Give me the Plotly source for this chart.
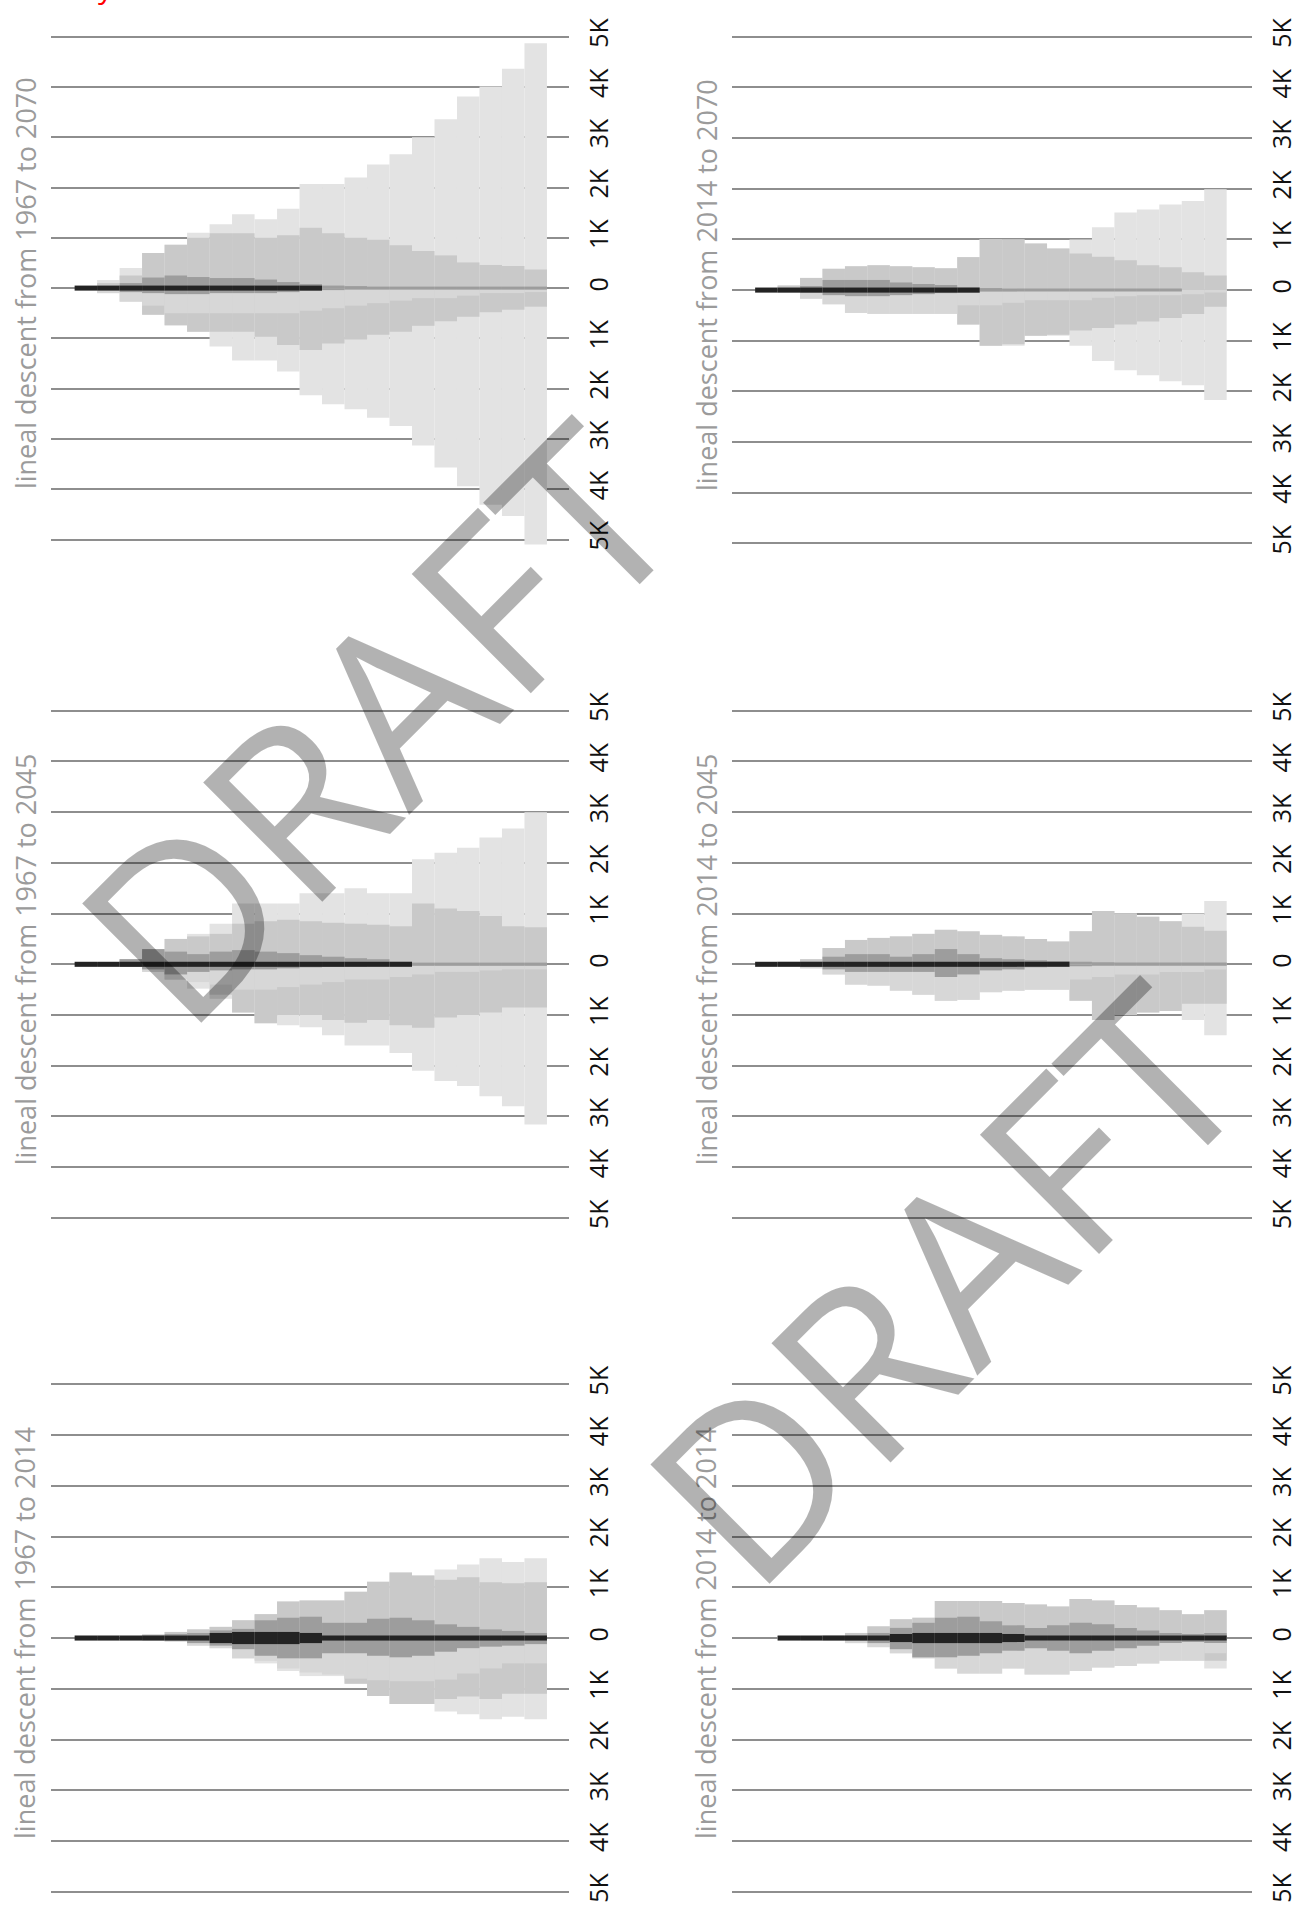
import plotly.graph_objects as go

# generation columns (21 per panel)
GENERATIONS = list(range(21))
TICK_VALS = [-5, -4, -3, -2, -1, 0, 1, 2, 3, 4, 5]
TICK_TEXT = ["5K", "4K", "3K", "2K", "1K", "0", "1K", "2K", "3K", "4K", "5K"]

TITLES = [
    "lineal descent from 1967 to 2070",
    "lineal descent from 2014 to 2070",
    "lineal descent from 1967 to 2045",
    "lineal descent from 2014 to 2045",
    "lineal descent from 1967 to 2014",
    "lineal descent from 2014 to 2014",
]

# --- 1967 to 2070 (values in thousands) ---
tl_up_outer = [0, 0.16, 0.40, 0.70, 0.86, 1.10, 1.27, 1.47, 1.37, 1.58, 2.07, 2.07, 2.20, 2.46, 2.66, 3.00, 3.36, 3.81, 4.01, 4.36, 4.87]
tl_up_light = [0, 0.10, 0.25, 0.70, 0.86, 1.00, 1.09, 1.09, 1.00, 1.05, 1.20, 1.09, 1.00, 0.96, 0.85, 0.74, 0.65, 0.51, 0.46, 0.44, 0.37]
tl_up_mid = [0, 0.03, 0.10, 0.21, 0.25, 0.22, 0.20, 0.20, 0.17, 0.12, 0.08, 0.05, 0.04, 0.03, 0.03, 0.03, 0.03, 0.03, 0.03, 0.03, 0.03]
tl_core = [0.05, 0.05, 0.05, 0.05, 0.05, 0.05, 0.05, 0.05, 0.05, 0.05, 0.05, 0, 0, 0, 0, 0, 0, 0, 0, 0, 0]
tl_lo_outer = [0, 0.10, 0.27, 0.53, 0.74, 0.87, 1.16, 1.44, 1.44, 1.66, 2.13, 2.31, 2.41, 2.58, 2.74, 3.13, 3.57, 3.94, 4.31, 4.53, 5.10]
tl_lo_light = [0, 0, 0, 0.53, 0.74, 0.87, 0.87, 0.87, 0.97, 1.13, 1.23, 1.10, 1.02, 0.93, 0.87, 0.75, 0.66, 0.57, 0.48, 0.43, 0.37]
tl_lo_pale = [0, 0.10, 0.27, 0.35, 0.50, 0.50, 0.50, 0.50, 0.50, 0.50, 0.45, 0.40, 0.35, 0.30, 0.25, 0.20, 0.20, 0.15, 0.10, 0.10, 0.08]
tl_lo_mid = [0, 0.03, 0.08, 0.10, 0.12, 0.12, 0.10, 0.10, 0.10, 0.08, 0.05, 0.04, 0.03, 0.03, 0.03, 0.03, 0.03, 0.03, 0.03, 0.03, 0.03]

# --- 2014 to 2070 ---
tr_up_outer = [0, 0.09, 0.24, 0.42, 0.47, 0.49, 0.47, 0.45, 0.43, 0.65, 1.01, 1.00, 0.92, 0.82, 1.00, 1.24, 1.53, 1.59, 1.69, 1.76, 1.99]
tr_up_light = [0, 0.09, 0.24, 0.42, 0.47, 0.49, 0.47, 0.45, 0.43, 0.65, 1.01, 1.00, 0.92, 0.82, 0.72, 0.66, 0.59, 0.49, 0.45, 0.35, 0.29]
tr_up_mid = [0, 0.03, 0.08, 0.20, 0.20, 0.20, 0.15, 0.12, 0.10, 0.05, 0.04, 0.03, 0.03, 0.03, 0.03, 0.03, 0.03, 0.03, 0.03, 0, 0]
tr_core = [0.05, 0.05, 0.05, 0.05, 0.05, 0.05, 0.05, 0.05, 0.05, 0.05, 0, 0, 0, 0, 0, 0, 0, 0, 0, 0, 0]
tr_lo_outer = [0, 0.05, 0.17, 0.28, 0.45, 0.47, 0.47, 0.47, 0.47, 0.68, 1.10, 1.10, 0.90, 0.90, 1.10, 1.40, 1.58, 1.68, 1.80, 1.88, 2.17]
tr_lo_light = [0, 0, 0, 0, 0, 0, 0, 0, 0, 0.68, 1.10, 1.07, 0.90, 0.88, 0.80, 0.75, 0.68, 0.62, 0.55, 0.47, 0.33]
tr_lo_pale = [0, 0.05, 0.17, 0.28, 0.45, 0.47, 0.47, 0.47, 0.47, 0.30, 0.30, 0.25, 0.20, 0.20, 0.20, 0.15, 0.12, 0.10, 0.10, 0.08, 0.05]
tr_lo_mid = [0, 0.03, 0.05, 0.10, 0.12, 0.12, 0.10, 0.08, 0.06, 0.05, 0.03, 0.03, 0.03, 0.03, 0.03, 0.03, 0.03, 0.03, 0.03, 0, 0]

# --- 1967 to 2045 ---
ml_up_outer = [0, 0, 0.10, 0.25, 0.50, 0.60, 0.80, 1.20, 1.20, 1.20, 1.40, 1.40, 1.50, 1.40, 1.40, 2.07, 2.20, 2.30, 2.50, 2.68, 3.00]
ml_up_light = [0, 0, 0.10, 0.25, 0.50, 0.55, 0.60, 0.80, 0.85, 0.88, 0.85, 0.82, 0.80, 0.78, 0.75, 1.20, 1.10, 1.05, 0.95, 0.75, 0.73]
ml_up_mid = [0, 0.03, 0.10, 0.30, 0.25, 0.20, 0.25, 0.28, 0.25, 0.22, 0.18, 0.15, 0.12, 0.10, 0.05, 0.03, 0.03, 0.03, 0.03, 0.03, 0.03]
ml_core = [0.05, 0.05, 0.05, 0.05, 0.05, 0.05, 0.05, 0.05, 0.05, 0.05, 0.05, 0.05, 0.05, 0.05, 0.05, 0, 0, 0, 0, 0, 0]
ml_lo_outer = [0, 0, 0.05, 0.15, 0.30, 0.48, 0.68, 0.95, 1.16, 1.20, 1.24, 1.40, 1.60, 1.60, 1.75, 2.10, 2.30, 2.40, 2.60, 2.80, 3.16]
ml_lo_light = [0, 0, 0, 0, 0.20, 0.30, 0.60, 0.95, 1.16, 1.00, 1.00, 1.10, 1.15, 1.10, 1.20, 1.25, 1.05, 1.00, 0.95, 0.85, 0.85]
ml_lo_pale = [0, 0, 0.05, 0.15, 0.30, 0.35, 0.40, 0.50, 0.50, 0.45, 0.40, 0.35, 0.30, 0.30, 0.25, 0.20, 0.15, 0.15, 0.12, 0.10, 0.10]
ml_lo_mid = [0, 0.03, 0.05, 0.10, 0.20, 0.15, 0.12, 0.10, 0.10, 0.08, 0.06, 0.05, 0.04, 0.03, 0.03, 0.03, 0.03, 0.03, 0.03, 0.03, 0.03]

# --- 2014 to 2045 ---
mr_up_outer = [0, 0.05, 0.10, 0.32, 0.48, 0.52, 0.55, 0.60, 0.68, 0.65, 0.58, 0.55, 0.50, 0.45, 0.65, 1.05, 1.00, 0.94, 0.85, 1.00, 1.25]
mr_up_light = [0, 0.05, 0.10, 0.32, 0.48, 0.52, 0.55, 0.60, 0.68, 0.65, 0.58, 0.55, 0.50, 0.45, 0.65, 1.05, 1.00, 0.94, 0.85, 0.74, 0.66]
mr_up_mid = [0, 0.03, 0.05, 0.15, 0.20, 0.20, 0.15, 0.20, 0.30, 0.20, 0.12, 0.10, 0.08, 0.06, 0.05, 0.04, 0.03, 0.03, 0.03, 0.03, 0.03]
mr_core = [0.05, 0.05, 0.05, 0.05, 0.05, 0.05, 0.05, 0.05, 0.05, 0.05, 0.05, 0.05, 0.05, 0.05, 0, 0, 0, 0, 0, 0, 0]
mr_lo_outer = [0, 0.03, 0.08, 0.20, 0.40, 0.42, 0.52, 0.60, 0.72, 0.70, 0.55, 0.52, 0.50, 0.50, 0.72, 1.10, 1.00, 0.95, 0.92, 1.10, 1.40]
mr_lo_light = [0, 0, 0, 0, 0, 0, 0, 0, 0, 0, 0, 0, 0, 0, 0.72, 1.10, 1.00, 0.95, 0.92, 0.78, 0.78]
mr_lo_pale = [0, 0.03, 0.08, 0.20, 0.40, 0.42, 0.52, 0.60, 0.72, 0.70, 0.55, 0.52, 0.50, 0.50, 0.30, 0.25, 0.20, 0.20, 0.15, 0.15, 0.10]
mr_lo_mid = [0, 0.03, 0.05, 0.10, 0.15, 0.15, 0.15, 0.15, 0.25, 0.20, 0.12, 0.10, 0.06, 0.05, 0.04, 0.03, 0.03, 0.03, 0.03, 0.03, 0.03]

# --- 1967 to 2014 ---
bl_up_outer = [0, 0, 0, 0.07, 0.12, 0.17, 0.22, 0.35, 0.47, 0.72, 0.74, 0.74, 0.91, 1.11, 1.29, 1.23, 1.35, 1.45, 1.57, 1.50, 1.57]
bl_up_light = [0, 0, 0, 0.07, 0.12, 0.17, 0.22, 0.35, 0.47, 0.72, 0.74, 0.74, 0.91, 1.11, 1.29, 1.23, 1.15, 1.20, 1.10, 1.08, 1.10]
bl_up_mid = [0, 0, 0, 0.05, 0.08, 0.10, 0.15, 0.18, 0.35, 0.40, 0.42, 0.30, 0.30, 0.38, 0.40, 0.35, 0.27, 0.22, 0.17, 0.14, 0.10]
bl_core = [0.05, 0.05, 0.05, 0.05, 0.05, 0.05, 0.10, 0.12, 0.12, 0.12, 0.10, 0.05, 0.05, 0.05, 0.05, 0.05, 0.05, 0.05, 0.05, 0.05, 0.05]
bl_lo_outer = [0, 0, 0, 0.05, 0.07, 0.15, 0.20, 0.40, 0.50, 0.65, 0.75, 0.75, 0.90, 1.14, 1.30, 1.30, 1.45, 1.50, 1.60, 1.55, 1.60]
bl_lo_light = [0, 0, 0, 0, 0, 0, 0, 0, 0, 0, 0, 0, 0.90, 1.14, 1.30, 1.30, 1.20, 1.15, 1.20, 1.10, 1.10]
bl_lo_pale = [0, 0, 0, 0.05, 0.07, 0.15, 0.20, 0.40, 0.45, 0.60, 0.68, 0.72, 0.80, 0.83, 0.85, 0.85, 0.82, 0.70, 0.60, 0.50, 0.50]
bl_lo_mid = [0, 0, 0, 0.03, 0.05, 0.10, 0.15, 0.22, 0.35, 0.40, 0.40, 0.30, 0.30, 0.35, 0.38, 0.35, 0.27, 0.20, 0.17, 0.15, 0.12]

# --- 2014 to 2014 ---
br_up_outer = [0, 0.02, 0.02, 0.05, 0.10, 0.23, 0.37, 0.40, 0.73, 0.73, 0.73, 0.69, 0.66, 0.62, 0.77, 0.74, 0.65, 0.60, 0.55, 0.47, 0.55]
br_up_light = [0, 0.02, 0.02, 0.05, 0.10, 0.23, 0.37, 0.40, 0.73, 0.73, 0.73, 0.69, 0.66, 0.62, 0.77, 0.74, 0.65, 0.60, 0.55, 0.47, 0.55]
br_up_mid = [0, 0, 0, 0.03, 0.05, 0.10, 0.20, 0.30, 0.40, 0.42, 0.33, 0.25, 0.20, 0.25, 0.30, 0.27, 0.20, 0.15, 0.10, 0.08, 0.10]
br_core = [0, 0.05, 0.05, 0.05, 0.05, 0.05, 0.08, 0.10, 0.10, 0.10, 0.10, 0.08, 0.05, 0.05, 0.05, 0.05, 0.05, 0.05, 0.05, 0.05, 0.05]
br_lo_outer = [0, 0.02, 0.02, 0.05, 0.10, 0.18, 0.30, 0.40, 0.60, 0.70, 0.70, 0.60, 0.72, 0.72, 0.65, 0.58, 0.55, 0.50, 0.45, 0.45, 0.60]
br_lo_light = [0, 0, 0, 0, 0, 0, 0, 0, 0, 0, 0, 0, 0, 0, 0, 0, 0, 0, 0, 0, 0.45]
br_lo_pale = [0, 0.02, 0.02, 0.05, 0.10, 0.18, 0.30, 0.40, 0.60, 0.70, 0.70, 0.60, 0.72, 0.72, 0.65, 0.58, 0.55, 0.50, 0.45, 0.45, 0.30]
br_lo_mid = [0, 0, 0, 0.03, 0.05, 0.10, 0.22, 0.38, 0.38, 0.35, 0.30, 0.25, 0.20, 0.25, 0.30, 0.25, 0.20, 0.15, 0.10, 0.08, 0.10]

PANEL_DATA = [
    (tl_up_outer, tl_up_light, tl_up_mid, tl_core, tl_lo_outer, tl_lo_light, tl_lo_pale, tl_lo_mid),
    (tr_up_outer, tr_up_light, tr_up_mid, tr_core, tr_lo_outer, tr_lo_light, tr_lo_pale, tr_lo_mid),
    (ml_up_outer, ml_up_light, ml_up_mid, ml_core, ml_lo_outer, ml_lo_light, ml_lo_pale, ml_lo_mid),
    (mr_up_outer, mr_up_light, mr_up_mid, mr_core, mr_lo_outer, mr_lo_light, mr_lo_pale, mr_lo_mid),
    (bl_up_outer, bl_up_light, bl_up_mid, bl_core, bl_lo_outer, bl_lo_light, bl_lo_pale, bl_lo_mid),
    (br_up_outer, br_up_light, br_up_mid, br_core, br_lo_outer, br_lo_light, br_lo_pale, br_lo_mid),
]

C_OUTER = "#e3e3e3"
C_LIGHT = "#c9c9c9"
C_PALE = "#d7d7d7"
C_MID = "#9d9d9d"
C_CORE = "#232323"
GRID = "#8e8e8e"
FONT = "Open Sans, sans-serif"

W, H = 1301, 1921
# panel geometry in pixels: (left, right) and (top, bottom) of each plot area
X_LEFT = (51, 569)
X_RIGHT = (732, 1251.6)
Y_ROWS = [(17.8, 537.6), (17.76, 541.64), (698.16, 1222.44), (698.16, 1222.44), (1378.15, 1902.65), (1378.15, 1902.65)]
X_RANGES = [(-1.55, 21.48), (-1.53, 21.61)]

fig = go.Figure()
annotations = []

for i, (up_o, up_l, up_m, core, lo_o, lo_l, lo_p, lo_m) in enumerate(PANEL_DATA):
    n = "" if i == 0 else str(i + 1)
    xa, ya = "x" + n, "y" + n
    layers = [
        (up_o, C_OUTER, 1), (lo_o, C_OUTER, -1),
        (up_l, C_LIGHT, 1), (lo_l, C_LIGHT, -1),
        (lo_p, C_PALE, -1),
        (up_m, C_MID, 1), (lo_m, C_MID, -1),
    ]
    for vals, col, sgn in layers:
        fig.add_trace(go.Bar(
            x=GENERATIONS, y=[sgn * v for v in vals], base=0, width=1,
            marker=dict(color=col, line=dict(width=0)),
            xaxis=xa, yaxis=ya, showlegend=False, hoverinfo="skip",
        ))
    fig.add_trace(go.Bar(
        x=GENERATIONS, y=[2 * c for c in core], base=[-c for c in core], width=1,
        marker=dict(color=C_CORE, line=dict(width=0)),
        xaxis=xa, yaxis=ya, showlegend=False, hoverinfo="skip",
    ))

    xl, xr = X_LEFT if i % 2 == 0 else X_RIGHT
    yt, yb = Y_ROWS[i]
    fig.layout["xaxis" + n] = dict(
        domain=[xl / W, xr / W], range=list(X_RANGES[i % 2]), anchor=ya,
        showgrid=False, zeroline=False, showticklabels=False, showline=False,
    )
    fig.layout["yaxis" + n] = dict(
        domain=[1 - yb / H, 1 - yt / H], range=[-5.12, 5.12], anchor=xa,
        side="right", tickvals=TICK_VALS, ticktext=TICK_TEXT, tickangle=-90,
        tickfont=dict(family=FONT, size=25, color="#111111"),
        showgrid=True, gridcolor=GRID, gridwidth=2, zeroline=False,
        showline=False, ticks="", ticklabelstandoff=13,
    )
    tx = 25 if i % 2 == 0 else 706
    annotations.append(dict(
        text=TITLES[i], x=tx / W, xref="paper", y=0.1, yref=ya,
        textangle=-90, showarrow=False, xanchor="center", yanchor="middle",
        font=dict(family=FONT, size=27, color="#9b9b9b"),
    ))

# cut-off red heading at the very top (only a descender shows)
annotations.append(dict(
    text="Family", x=116 / W, y=1 + 4 / H, xref="paper", yref="paper",
    xanchor="right", yanchor="bottom", showarrow=False,
    font=dict(family=FONT, size=30, color="#ff0000"),
))

# DRAFT watermarks
for cx, cy in [(374, 714), (942, 1280)]:
    annotations.append(dict(
        text="DRAFT", x=cx / W, y=1 - cy / H, xref="paper", yref="paper",
        xanchor="center", yanchor="middle", textangle=-45, showarrow=False,
        font=dict(family=FONT, size=236, color="rgba(0,0,0,0.30)"),
    ))

fig.update_layout(
    width=W, height=H, barmode="overlay",
    margin=dict(l=0, r=0, t=0, b=0),
    paper_bgcolor="white", plot_bgcolor="white",
    annotations=annotations,
)

fig.write_html("out.html", config={"displayModeBar": False},
               post_script="document.body.style.margin='0';")
